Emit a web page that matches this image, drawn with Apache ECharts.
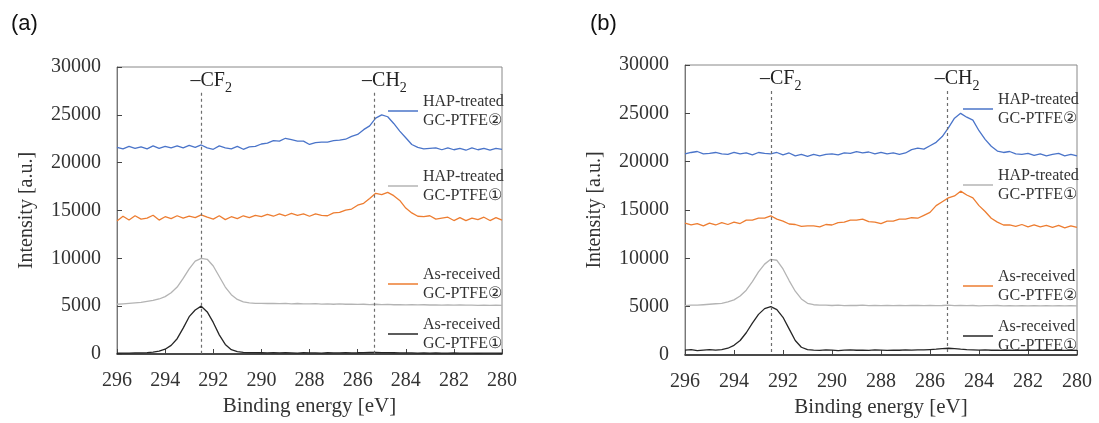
<!DOCTYPE html>
<html>
<head>
<meta charset="utf-8">
<script src="https://cdn.jsdelivr.net/npm/echarts@6/dist/echarts.min.js"></script>
<style>
    html, body { margin: 0; padding: 0; background: #fff; }
    #cn { width: 1099px; height: 423px; }
</style>
</head>
<body>
<div id="cn"></div>
<script>
'use strict';

// binding energy, 0.25 eV steps, 296 -> 280
const energy = [];
for (let i = 0; i <= 64; i++) energy.push(296 - i * 0.25);

const peakCF2 = 292.5;
const peakCH2 = 285.3;

// (a) panel
const aHap2 = [21600, 21450, 21700, 21500, 21650, 21450, 21750, 21500, 21700, 21550, 21750, 21550, 21800, 21600, 21850, 21550,
    21400, 21750, 21550, 21450, 21700, 21400, 21650, 21700, 21950, 22050, 22300, 22250, 22550, 22400, 22250, 22250,
    21900, 22100, 22150, 22150, 22300, 22350, 22450, 22750, 22950, 23450, 23850, 24650, 25000, 24800, 24100, 23300,
    22600, 21900, 21600, 21450, 21500, 21550, 21350, 21550, 21350, 21500, 21300, 21550, 21350, 21500, 21300, 21500, 21400];
const aHap1 = [5200, 5250, 5300, 5350, 5400, 5500, 5600, 5750, 6000, 6400, 7000, 7900, 8900, 9700, 10000, 9900,
    9200, 8100, 7000, 6200, 5700, 5450, 5350, 5300, 5300, 5280, 5300, 5260, 5300, 5250, 5280, 5250,
    5230, 5260, 5220, 5250, 5200, 5230, 5200, 5220, 5180, 5200, 5170, 5200, 5160, 5180, 5150, 5170,
    5140, 5160, 5130, 5150, 5120, 5140, 5110, 5130, 5100, 5120, 5100, 5110, 5090, 5110, 5080, 5100, 5090];
const aAs2 = [13900, 14400, 14000, 14450, 14100, 14200, 14500, 14000, 14350, 14150, 14450, 14200, 14400, 14250, 14550, 14300,
    14100, 14450, 14050, 14350, 14150, 14450, 14250, 14500, 14350, 14600, 14400, 14650, 14450, 14700, 14500, 14650,
    14400, 14650, 14500, 14450, 14750, 14800, 15050, 15150, 15550, 15750, 16250, 16800, 16650, 16900, 16550, 16050,
    15250, 14750, 14400, 14350, 14450, 14100, 14200, 14300, 13950, 14250, 13950, 14200, 14050, 14300, 13950, 14250, 14000];
const aAs1 = [80, 100, 90, 110, 120, 150, 200, 300, 500, 900, 1600, 2700, 3900, 4600, 5000, 4400,
    3300, 2000, 1000, 450, 250, 180, 150, 140, 130, 120, 140, 110, 130, 120, 100, 130,
    110, 120, 100, 130, 110, 120, 140, 120, 130, 150, 160, 170, 150, 140, 130, 120,
    110, 120, 100, 110, 90, 110, 100, 90, 110, 100, 90, 100, 80, 100, 90, 100, 80];

// (b) panel
const bHap2 = [20800, 20950, 21050, 20800, 20850, 20950, 20800, 20750, 20950, 20800, 20900, 20700, 20950, 20850, 20800, 20950,
    20700, 20900, 20600, 20750, 20550, 20750, 20600, 20750, 20800, 20700, 20900, 20850, 21050, 20900, 21000, 20800,
    20950, 20800, 20900, 20750, 20900, 21250, 21400, 21300, 21650, 22000, 22600, 23500, 24500, 25000, 24600, 24300,
    23200, 22300, 21600, 21100, 20950, 21050, 20800, 20750, 20850, 20650, 20800, 20600, 20750, 20850, 20600, 20750, 20600];
const bHap1 = [5100, 5150, 5150, 5200, 5250, 5300, 5350, 5500, 5700, 6100, 6700, 7600, 8600, 9400, 9900, 9800,
    8900, 7700, 6600, 5800, 5350, 5200, 5150, 5150, 5120, 5150, 5100, 5140, 5120, 5150, 5110, 5130,
    5100, 5140, 5110, 5130, 5100, 5120, 5140, 5110, 5130, 5100, 5120, 5150, 5110, 5130, 5100, 5120,
    5090, 5110, 5100, 5120, 5090, 5110, 5080, 5100, 5090, 5110, 5080, 5100, 5090, 5100, 5080, 5100, 5090];
const bAs2 = [13650, 13450, 13600, 13350, 13650, 13450, 13700, 13500, 13750, 13600, 13950, 13950, 14150, 14150, 14400, 14050,
    13850, 13550, 13500, 13300, 13350, 13350, 13250, 13500, 13450, 13700, 13750, 13950, 13950, 14050, 13800, 13750,
    13600, 13850, 13850, 14050, 14050, 14200, 14150, 14450, 14750, 15450, 15850, 16250, 16450, 16950, 16550, 16250,
    15450, 14850, 14150, 13750, 13450, 13450, 13300, 13500, 13250, 13450, 13250, 13400, 13200, 13400, 13150, 13350, 13200];
const bAs1 = [500, 550, 450, 500, 550, 500, 550, 700, 1000, 1500, 2300, 3300, 4200, 4800, 5000, 4700,
    3900, 2700, 1500, 800, 550, 500, 480, 520, 500, 460, 500, 530, 490, 510, 480, 520,
    500, 470, 510, 490, 520, 500, 540, 520, 560, 600, 650, 700, 650, 600, 560, 530,
    500, 520, 490, 510, 480, 500, 470, 500, 490, 510, 480, 500, 470, 490, 480, 500, 470];

const yTicks = [0, 5000, 10000, 15000, 20000, 25000, 30000];

const legendText = {
    'a-HAP2': 'HAP-treated\nGC-PTFE②', 'a-HAP1': 'HAP-treated\nGC-PTFE①',
    'a-AS2': 'As-received\nGC-PTFE②', 'a-AS1': 'As-received\nGC-PTFE①',
    'b-HAP2': 'HAP-treated\nGC-PTFE②', 'b-HAP1': 'HAP-treated\nGC-PTFE①',
    'b-AS2': 'As-received\nGC-PTFE②', 'b-AS1': 'As-received\nGC-PTFE①'
};

const colBlue = '#4a74c9';
const colOrange = '#ed7d31';
const colGray = '#b4b4b4';
const colBlack = '#262626';
const serif = '"Liberation Serif", "DejaVu Serif", serif';

const makeSeries = (name, color, vals, idx) => ({
    name: name,
    type: 'line',
    xAxisIndex: idx,
    yAxisIndex: idx,
    showSymbol: false,
    symbol: 'none',
    silent: true,
    lineStyle: { width: 1.3, color: color },
    itemStyle: { color: color },
    data: energy.map((e, i) => [e, vals[i]])
});

const peakMarks = (idx) => ({
    markLine: {
        silent: true,
        symbol: 'none',
        label: { show: false },
        lineStyle: { type: [3, 3], color: '#6e6e6e', width: 1.2 },
        data: [
            [{ coord: [peakCF2, 27300] }, { coord: [peakCF2, 0] }],
            [{ coord: [peakCH2, 27300] }, { coord: [peakCH2, 0] }]
        ]
    },
    markPoint: {
        silent: true,
        symbol: 'circle',
        symbolSize: 0,
        label: {
            show: true,
            position: 'top',
            distance: 0,
            offset: [10, 2],
            rich: {
                a: { fontFamily: serif, fontSize: 20, color: '#222', lineHeight: 22, padding: [0, 0, 4, 0], verticalAlign: 'bottom' },
                s: { fontFamily: serif, fontSize: 14, color: '#222', lineHeight: 14, verticalAlign: 'bottom' }
            }
        },
        data: [
            { coord: [peakCF2, 27300], label: { formatter: '{a|\u2013CF}{s|2}' } },
            { coord: [peakCH2, 27300], label: { formatter: '{a|\u2013CH}{s|2}' } }
        ]
    }
});

const makeX = (idx) => ({
    type: 'value',
    gridIndex: idx,
    min: 280,
    max: 296,
    interval: 2,
    inverse: true,
    name: 'Binding energy [eV]',
    nameLocation: 'middle',
    nameGap: 35,
    nameTextStyle: { fontFamily: serif, fontSize: 21, color: '#333' },
    axisLine: { show: true, onZero: false, lineStyle: { color: '#222', width: 1.5 } },
    axisTick: { show: true, inside: true, length: 5, lineStyle: { color: '#444' } },
    axisLabel: { fontFamily: serif, fontSize: 20, color: '#333', margin: 17 },
    splitLine: { show: false }
});

const makeY = (idx) => ({
    type: 'value',
    gridIndex: idx,
    min: 0,
    max: 30000,
    interval: 5000,
    name: 'Intensity [a.u.]',
    nameLocation: 'middle',
    nameRotate: 90,
    nameGap: 80,
    nameTextStyle: { fontFamily: serif, fontSize: 20, color: '#333' },
    axisLine: { show: true, lineStyle: { color: '#777', width: 1 } },
    axisTick: { show: true, inside: true, length: 5, lineStyle: { color: '#444' } },
    axisLabel: { fontFamily: serif, fontSize: 20, color: '#333', margin: 16,
        formatter: (v) => yTicks.includes(v) ? String(v) : '' },
    splitLine: { show: false }
});

const makeLegend = (name, left, top) => ({
    data: [name],
    left: left,
    top: top,
    padding: 0,
    orient: 'vertical',
    selectedMode: false,
    icon: 'rect',
    itemWidth: 30,
    itemHeight: 1.5,
    formatter: (n) => legendText[n],
    textStyle: { fontFamily: serif, fontSize: 16, color: '#333', lineHeight: 19 }
});

const chart = echarts.init(document.getElementById('cn'));

const sA = [
    makeSeries('a-HAP2', colBlue, aHap2, 0),
    makeSeries('a-HAP1', colGray, aHap1, 0),
    makeSeries('a-AS2', colOrange, aAs2, 0),
    makeSeries('a-AS1', colBlack, aAs1, 0)
];
Object.assign(sA[0], peakMarks(0));

const sB = [
    makeSeries('b-HAP2', colBlue, bHap2, 1),
    makeSeries('b-HAP1', colGray, bHap1, 1),
    makeSeries('b-AS2', colOrange, bAs2, 1),
    makeSeries('b-AS1', colBlack, bAs1, 1)
];
Object.assign(sB[0], peakMarks(1));

const option = {
    backgroundColor: '#fff',
    animation: false,
    title: [
        { text: '(a)', left: 6, top: 8, textStyle: { fontFamily: '"Liberation Sans", sans-serif', fontSize: 22, fontWeight: 'normal', color: '#111' } },
        { text: '(b)', left: 585, top: 8, textStyle: { fontFamily: '"Liberation Sans", sans-serif', fontSize: 22, fontWeight: 'normal', color: '#111' } }
    ],
    grid: [
        { left: 117, top: 67, width: 385, height: 287, show: true, borderColor: '#888', borderWidth: 1 },
        { left: 685, top: 65, width: 392, height: 290, show: true, borderColor: '#888', borderWidth: 1 }
    ],
    xAxis: [makeX(0), makeX(1)],
    yAxis: [makeY(0), makeY(1)],
    legend: [
        makeLegend('a-HAP2', 388, 92),
        makeLegend('a-HAP1', 388, 167),
        makeLegend('a-AS2', 388, 265),
        makeLegend('a-AS1', 388, 315),
        makeLegend('b-HAP2', 963, 90),
        makeLegend('b-HAP1', 963, 166),
        makeLegend('b-AS2', 963, 267),
        makeLegend('b-AS1', 963, 317)
    ],
    series: sA.concat(sB)
};

chart.setOption(option);
</script>
</body>
</html>
